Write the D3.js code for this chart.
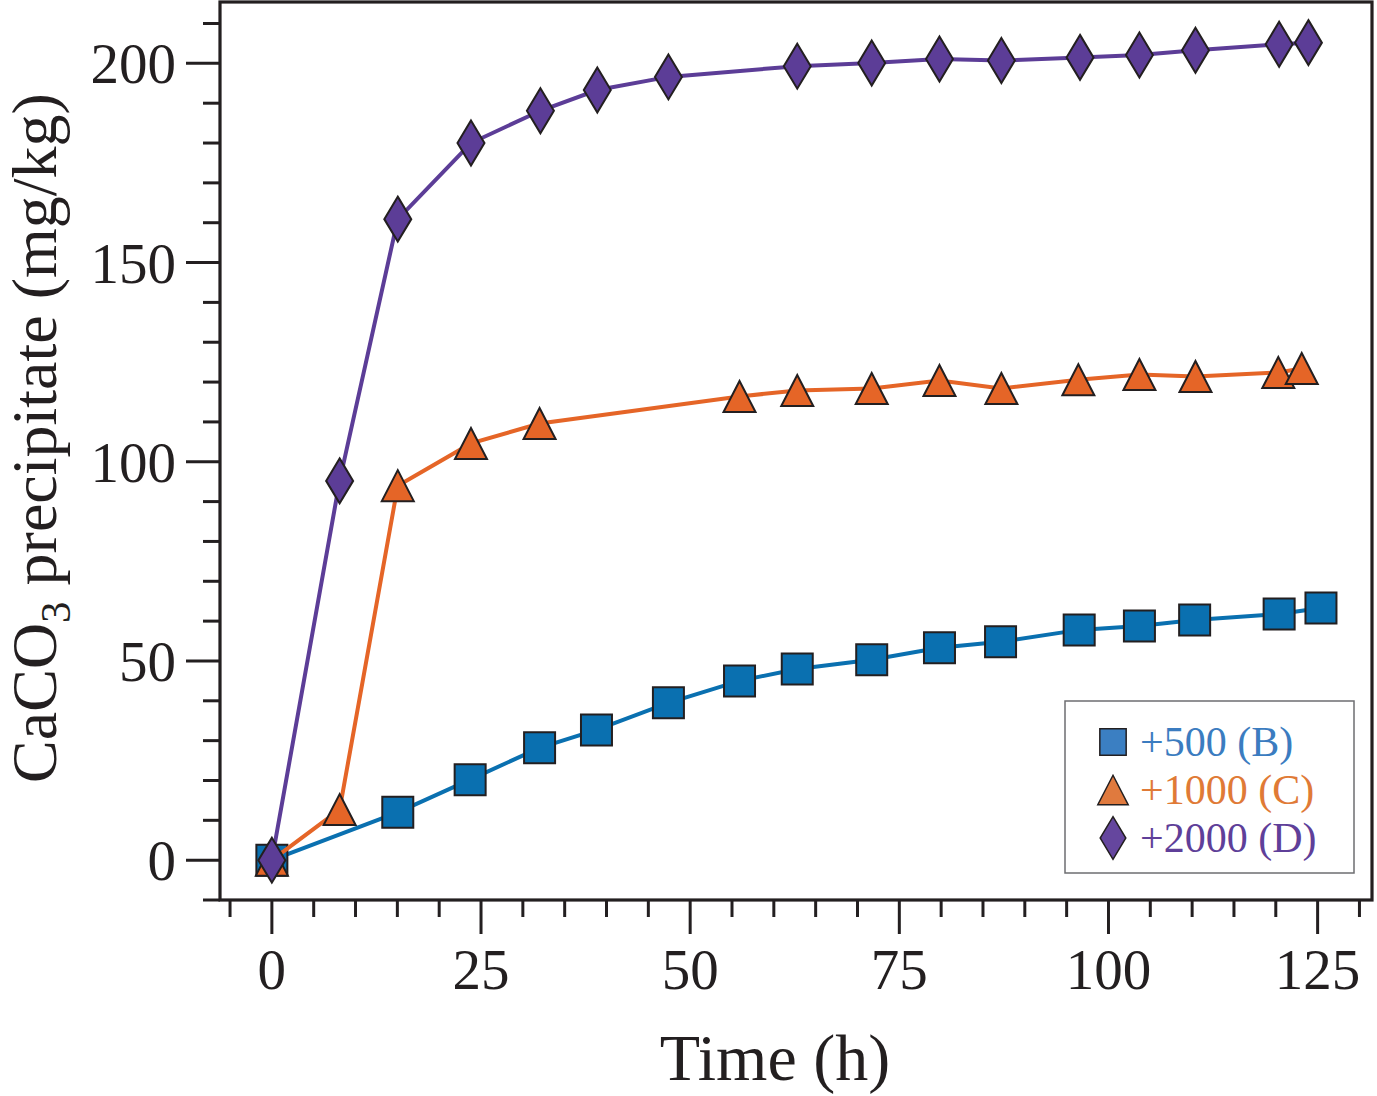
<!DOCTYPE html>
<html><head><meta charset="utf-8">
<script src="https://cdn.jsdelivr.net/npm/d3@7"></script>
<style>
body{margin:0;background:#fff}
svg{display:block}
text{font-family:"Liberation Serif","Times New Roman",serif}
</style>
</head><body>
<svg id="c" width="1377" height="1096"></svg>
<script>
// ---- data ----
const timeB = [0, 15.05, 23.7, 32.0, 38.8, 47.4, 55.9, 62.8, 71.7, 79.8, 87.1, 96.5, 103.7, 110.3, 120.4, 125.4];
const valB  = [0, 12.0, 20.2, 28.2, 32.7, 39.5, 45.0, 48.0, 50.3, 53.3, 54.8, 57.8, 58.8, 60.3, 61.8, 63.3];
const timeC = [0, 8.1, 15.05, 23.8, 32.0, 55.9, 62.8, 71.7, 79.8, 87.2, 96.4, 103.7, 110.4, 120.3, 123.1];
const valC  = [0, 12.7, 94.0, 104.6, 109.6, 116.4, 117.9, 118.4, 120.4, 118.4, 120.6, 121.9, 121.4, 122.4, 123.4];
const timeD = [0, 8.1, 15.05, 23.8, 32.1, 38.9, 47.4, 62.8, 71.7, 79.8, 87.2, 96.6, 103.7, 110.4, 120.4, 123.9];
const valD  = [0, 95.2, 160.9, 180.0, 188.1, 193.3, 196.6, 199.3, 200.1, 201.1, 200.7, 201.5, 202.1, 203.3, 204.8, 205.2];
const seriesNames = ["+500 (B)", "+1000 (C)", "+2000 (D)"];
const xMajorTicks = [0, 25, 50, 75, 100, 125];
const yMajorTicks = [0, 50, 100, 150, 200];
const xTitle = "Time (h)";

// ---- layout ----
const svg = d3.select("#c");
const L = 220, R = 1372, T = 2, B = 900;
const x = d3.scaleLinear().domain([-6.2, 131.5]).range([L, R]);
const y = d3.scaleLinear().domain([-10, 215.4]).range([B, T]);
const ink = "#231f20";

const series = [
  {t: timeB, v: valB, color: "#0a70b0", lcolor: "#3b7fc2", tcolor: "#3b7cc0", shape: "square"},
  {t: timeC, v: valC, color: "#e56527", lcolor: "#e07a3e", tcolor: "#e07a36", shape: "triangle"},
  {t: timeD, v: valD, color: "#5c3d97", lcolor: "#65469e", tcolor: "#5f3f99", shape: "diamond"}
];

function markerPath(shape, s) {
  s = s || 1;
  if (shape === "square") { const h = 15.5*s; return `M${-h},${-h}H${h}V${h}H${-h}Z`; }
  if (shape === "triangle") { const w = 16*s, h = 15.5*s; return `M0,${-h}L${w},${h}L${-w},${h}Z`; }
  const w = 13.5*s, h = 22.5*s; return `M0,${-h}L${w},0L0,${h}L${-w},0Z`;
}

// frame
svg.append("rect").attr("x", L).attr("y", T).attr("width", R - L).attr("height", B - T)
  .attr("fill", "none").attr("stroke", ink).attr("stroke-width", 3.2);

// x ticks
const xAxis = svg.append("g");
d3.range(-5, 131, 5).forEach(v => {
  const major = xMajorTicks.includes(v);
  xAxis.append("line").attr("x1", x(v)).attr("x2", x(v)).attr("y1", B).attr("y2", B + (major ? 34 : 17))
    .attr("stroke", ink).attr("stroke-width", 3);
});
xMajorTicks.forEach(v => {
  xAxis.append("text").attr("x", x(v)).attr("y", 989).attr("text-anchor", "middle")
    .attr("font-size", 57).attr("fill", ink).text(v);
});

// y ticks
const yAxis = svg.append("g");
d3.range(-10, 211, 10).forEach(v => {
  const major = yMajorTicks.includes(v);
  yAxis.append("line").attr("x1", L).attr("x2", L - (major ? 34 : 17)).attr("y1", y(v)).attr("y2", y(v))
    .attr("stroke", ink).attr("stroke-width", 3);
});
yMajorTicks.forEach(v => {
  yAxis.append("text").attr("x", 176).attr("y", y(v) + 20).attr("text-anchor", "end")
    .attr("font-size", 57).attr("fill", ink).text(v);
});

// titles
svg.append("text").attr("x", 775).attr("y", 1080).attr("text-anchor", "middle")
  .attr("font-size", 66).attr("fill", ink).text(xTitle);
const yt = svg.append("text").attr("transform", "translate(56,438) rotate(-90)")
  .attr("text-anchor", "middle").attr("font-size", 64).attr("fill", ink);
yt.append("tspan").text("CaCO");
yt.append("tspan").attr("font-size", 43).attr("dy", 14).text("3");
yt.append("tspan").attr("dy", -14).text(" precipitate (mg/kg)");

// series
const line = d3.line().x(d => x(d[0])).y(d => y(d[1]));
series.forEach(s => {
  const pts = s.t.map((t, i) => [t, s.v[i]]);
  const g = svg.append("g");
  g.append("path").attr("d", line(pts)).attr("fill", "none").attr("stroke", s.color).attr("stroke-width", 4);
  g.selectAll("path.m").data(pts).join("path").attr("class", "m")
    .attr("transform", d => `translate(${x(d[0])},${y(d[1])})`)
    .attr("d", markerPath(s.shape)).attr("fill", s.color).attr("stroke", ink).attr("stroke-width", 2);
});

// legend
const lg = svg.append("g");
lg.append("rect").attr("x", 1065).attr("y", 701).attr("width", 289).attr("height", 172)
  .attr("fill", "#fff").attr("stroke", "#6d6e71").attr("stroke-width", 1.5);
series.forEach((s, i) => {
  const cy = 742 + i * 48;
  lg.append("path").attr("transform", `translate(1113,${cy})`)
    .attr("d", markerPath(s.shape, s.shape === "square" ? 0.85 : 0.95))
    .attr("fill", s.lcolor).attr("stroke", ink).attr("stroke-width", 1.5);
  lg.append("text").attr("x", 1140).attr("y", cy + 14).attr("font-size", 42)
    .attr("fill", s.tcolor).text(seriesNames[i]);
});
</script>
</body></html>
